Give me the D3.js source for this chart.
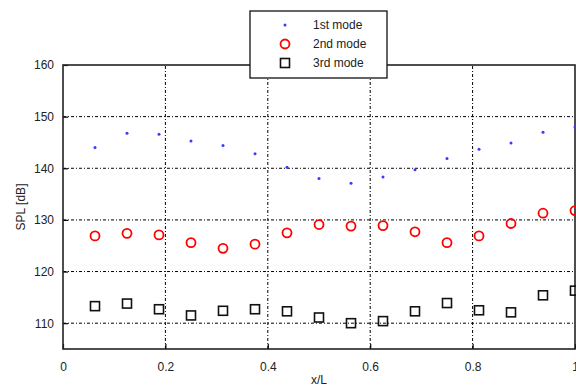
<!DOCTYPE html>
<html lang="en">
<head>
<meta charset="UTF-8">
<title>SPL along x/L</title>
<script src="https://d3js.org/d3.v7.min.js"></script>
<style>
  body { margin: 0; background: #fff; }
  svg { display: block; font-family: "Liberation Sans", Arial, sans-serif; }
  .tick text { font-size: 12px; fill: #222; }
  .grid line { stroke: #000; stroke-width: 1; stroke-dasharray: 3,2,1,2; }
</style>
</head>
<body>
<div id="chart"></div>
<script>
// ---- data ----
const xPos = [0.0625, 0.125, 0.1875, 0.25, 0.3125, 0.375, 0.4375, 0.5,
              0.5625, 0.625, 0.6875, 0.75, 0.8125, 0.875, 0.9375, 1.0];
const mode1 = [144.0, 146.8, 146.6, 145.3, 144.4, 142.8, 140.2, 138.0,
               137.1, 138.3, 139.7, 141.9, 143.7, 144.9, 147.0, 148.0];
const mode2 = [126.9, 127.4, 127.1, 125.6, 124.5, 125.3, 127.5, 129.1,
               128.8, 128.9, 127.7, 125.6, 126.9, 129.3, 131.3, 131.8];
const mode3 = [113.3, 113.8, 112.7, 111.5, 112.4, 112.7, 112.3, 111.1,
               110.0, 110.4, 112.3, 113.9, 112.5, 112.1, 115.4, 116.3];
const seriesNames = ["1st mode", "2nd mode", "3rd mode"];
const xTicks = [0, 0.2, 0.4, 0.6, 0.8, 1];
const yTicks = [110, 120, 130, 140, 150, 160];

const W = 576, H = 388;
const m = { left: 63, top: 65, right: 1, bottom: 39 };

const svg = d3.select("#chart").append("svg")
  .attr("width", W).attr("height", H);

const x = d3.scaleLinear().domain([0, 1]).range([m.left, W - m.right]);
const y = d3.scaleLinear().domain([105, 160]).range([H - m.bottom, m.top]);

// grid
const grid = svg.append("g").attr("class", "grid");
grid.selectAll(".gx").data(xTicks.slice(1, -1)).join("line")
  .attr("x1", d => x(d)).attr("x2", d => x(d))
  .attr("y1", y.range()[0]).attr("y2", y.range()[1]);
grid.selectAll(".gy").data(yTicks.slice(0, -1)).join("line")
  .attr("x1", x.range()[0]).attr("x2", x.range()[1])
  .attr("y1", d => y(d)).attr("y2", d => y(d));

// axes (inside ticks, matlab style)
const xAxis = svg.append("g")
  .attr("transform", `translate(0,${y.range()[0]})`)
  .call(d3.axisBottom(x).tickValues(xTicks).tickFormat(d3.format("")).tickSizeInner(-5).tickSizeOuter(0).tickPadding(13));
const yAxis = svg.append("g")
  .attr("transform", `translate(${x.range()[0]},0)`)
  .call(d3.axisLeft(y).tickValues(yTicks).tickSizeInner(-5).tickSizeOuter(0).tickPadding(9));
[xAxis, yAxis].forEach(g => {
  g.select(".domain").remove();
  g.selectAll(".tick line").attr("stroke", "#000").attr("stroke-width", 1.2);
});

// frame
svg.append("rect")
  .attr("x", x.range()[0]).attr("y", y.range()[1])
  .attr("width", x.range()[1] - x.range()[0])
  .attr("height", y.range()[0] - y.range()[1])
  .attr("fill", "none").attr("stroke", "#222").attr("stroke-width", 1.6);

// series
const g1 = svg.append("g");
g1.selectAll("circle").data(xPos.map((d, i) => [d, mode1[i]])).join("circle")
  .attr("cx", d => x(d[0])).attr("cy", d => y(d[1]))
  .attr("r", 1.5).attr("fill", "#3a3aff");

const g2 = svg.append("g");
g2.selectAll("circle").data(xPos.map((d, i) => [d, mode2[i]])).join("circle")
  .attr("cx", d => x(d[0])).attr("cy", d => y(d[1]))
  .attr("r", 4.5).attr("fill", "none").attr("stroke", "#f00").attr("stroke-width", 1.8);

const g3 = svg.append("g");
g3.selectAll("rect").data(xPos.map((d, i) => [d, mode3[i]])).join("rect")
  .attr("x", d => x(d[0]) - 4.5).attr("y", d => y(d[1]) - 4.5)
  .attr("width", 9).attr("height", 9)
  .attr("fill", "none").attr("stroke", "#111").attr("stroke-width", 1.6);

// labels
svg.append("text").attr("x", x(0.5)).attr("y", 384)
  .attr("text-anchor", "middle").attr("font-size", 12).attr("fill", "#222").text("x/L");
svg.append("text")
  .attr("transform", `translate(25,${(y.range()[0] + y.range()[1]) / 2}) rotate(-90)`)
  .attr("text-anchor", "middle").attr("font-size", 12).attr("fill", "#222").text("SPL [dB]");

// legend
const leg = svg.append("g").attr("transform", "translate(250,11)");
leg.append("rect").attr("width", 137).attr("height", 67)
  .attr("fill", "#fff").attr("stroke", "#111").attr("stroke-width", 1.3);
const rows = leg.selectAll(".row").data(seriesNames).join("g")
  .attr("transform", (d, i) => `translate(0,${14 + i * 19})`);
rows.append("text").attr("x", 63).attr("y", 0).attr("dy", "0.35em")
  .attr("font-size", 12).attr("fill", "#222").text(d => d);
rows.filter((d, i) => i === 0).append("circle").attr("cx", 35).attr("r", 1.5).attr("fill", "#3a3aff");
rows.filter((d, i) => i === 1).append("circle").attr("cx", 35).attr("r", 4.5)
  .attr("fill", "none").attr("stroke", "#f00").attr("stroke-width", 1.8);
rows.filter((d, i) => i === 2).append("rect").attr("x", 30.5).attr("y", -4.5)
  .attr("width", 9).attr("height", 9).attr("fill", "none").attr("stroke", "#111").attr("stroke-width", 1.6);
</script>
</body>
</html>
